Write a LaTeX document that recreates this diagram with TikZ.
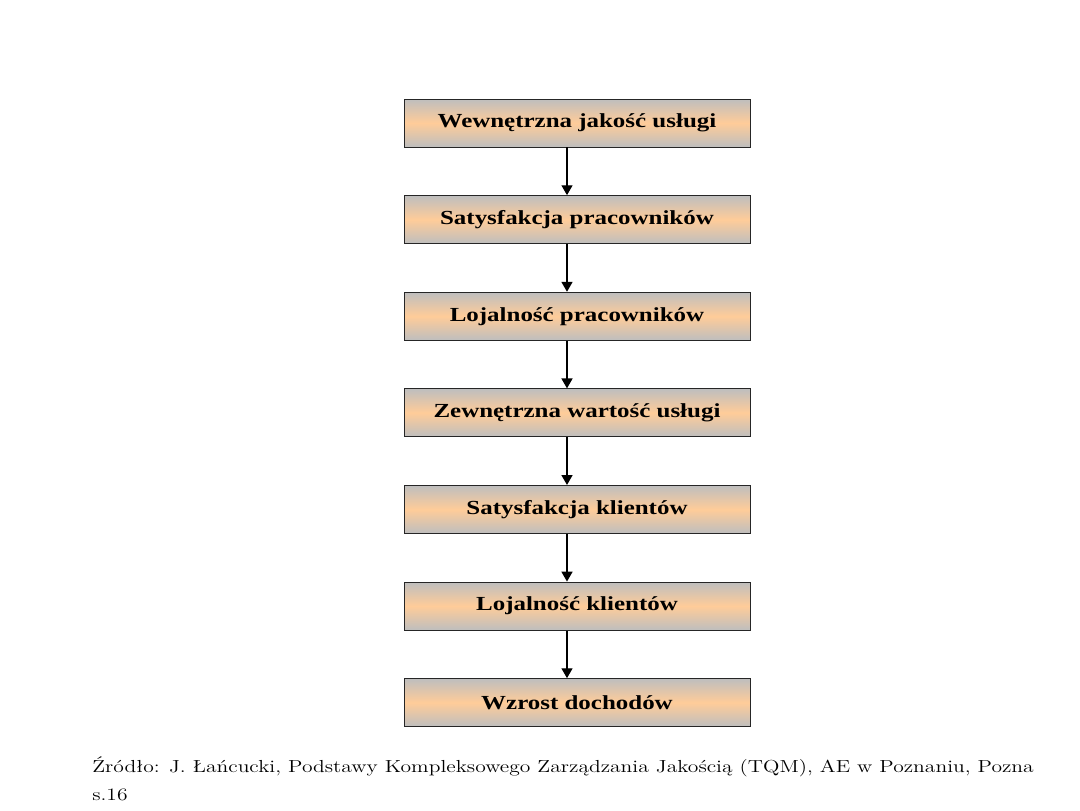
\documentclass[tikz,border=0pt]{standalone}
\usepackage{fontspec}
\usepackage{graphicx}
\usepackage{tikz}
\usetikzlibrary{arrows,positioning}
\newfontfamily\boxfont{Liberation Serif}

\definecolor{boxgray}{RGB}{190,190,190}
\definecolor{boxorange}{RGB}{255,204,153}

\tikzset{
  stage/.style={draw=black!85, line width=0.7pt, minimum width=8.65cm, minimum height=1.2cm,
    top color=boxgray, bottom color=boxgray, middle color=boxorange,
    font=\boxfont\bfseries\fontsize{14.2}{16}\selectfont},
  flow/.style={->, >=triangle 60, line width=0.9pt}
}
\newcommand{\wide}[1]{\scalebox{1.25}[1]{#1}}
\newcommand{\srcwide}[1]{\scalebox{1.237}[1]{#1}}

\begin{document}
\begin{tikzpicture}[node distance=2.415cm]
    \useasboundingbox (-14.425,3.075) rectangle (12.575,-17.175);
    \node[stage] (s1) {\wide{Wewnętrzna jakość usługi}};
    \node[stage] (s2) [below of=s1] {\wide{Satysfakcja pracowników}};
    \node[stage] (s3) [below of=s2] {\wide{Lojalność pracowników}};
    \node[stage] (s4) [below of=s3] {\wide{Zewnętrzna wartość usługi}};
    \node[stage] (s5) [below of=s4] {\wide{Satysfakcja klientów}};
    \node[stage] (s6) [below of=s5] {\wide{Lojalność klientów}};
    \node[stage] (s7) [below of=s6] {\wide{Wzrost dochodów}};
    % arrows run a bit left of the box centres
    \foreach \a/\b in {s1/s2,s2/s3,s3/s4,s4/s5,s5/s6,s6/s7}
      \draw[flow] ([xshift=-0.25cm]\a.south) -- ([xshift=-0.25cm]\b.north);
    % source below the chart
    \node[anchor=base west, inner sep=0pt, font=\fontsize{12.4}{15}\selectfont] (src) at (-12.125,-16.225)
      {\srcwide{Źródło: J. Łańcucki, Podstawy Kompleksowego Zarządzania Jakością (TQM), AE w Poznaniu, Pozna}};
    \node[anchor=base west, inner sep=0pt, font=\fontsize{12.4}{15}\selectfont] (page) at (-12.125,-16.925)
      {\srcwide{s.16}};
\end{tikzpicture}
\end{document}
